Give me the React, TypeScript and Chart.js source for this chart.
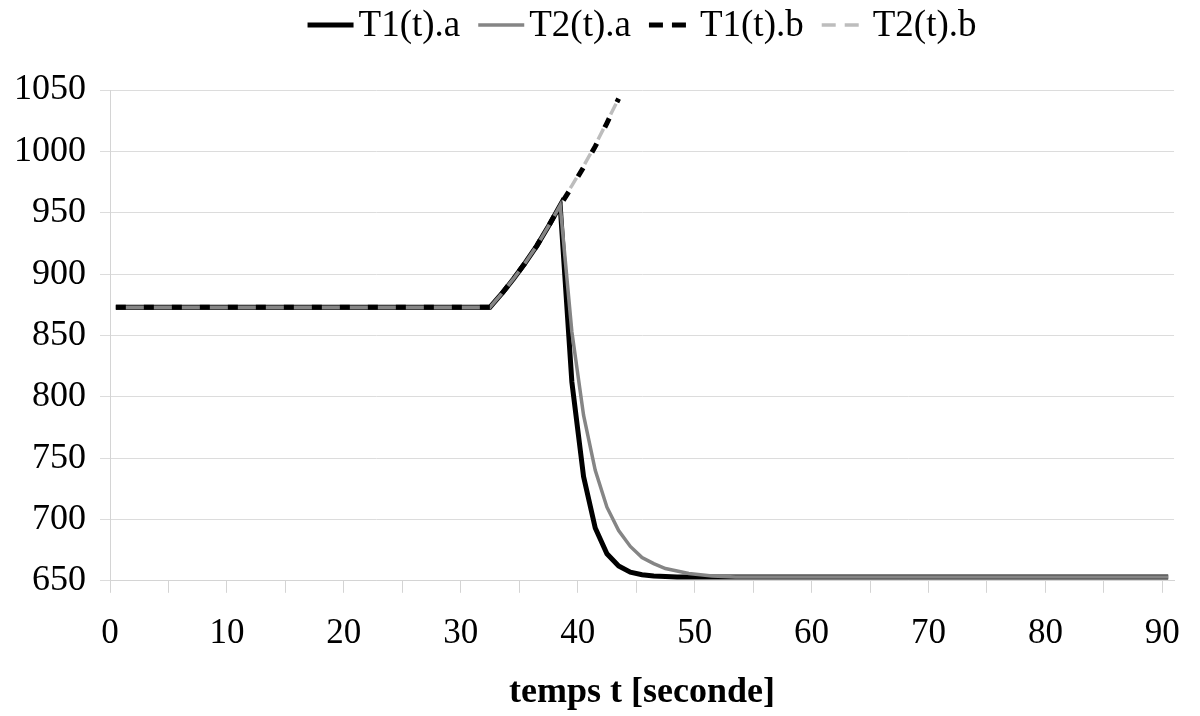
import React, { useEffect, useRef } from "react";
import { Chart, registerables } from "chart.js";

Chart.register(...registerables);

// Time points (seconds)
const timeA = [0.5, 32.5, 33.5, 34.5, 35.5, 36.5, 37.5, 38.5, 39.5, 40.5, 41.5, 42.5, 43.5, 44.5, 45.5, 46.5, 47.5, 48.5, 49.5, 50.5, 51.5, 52.5, 53.5, 90.5];
const timeB = [0.5, 32.5, 33.5, 34.5, 35.5, 36.5, 37.5, 38.5, 39.5, 40.5, 41.5, 42.5, 43.5];

// Series values
const T1a = [873, 873, 884, 896, 909, 923, 939, 956, 812, 735, 693, 672, 662, 657, 655, 654, 653.5, 653, 653, 653, 653, 653, 653, 653];
const T2a = [873, 873, 884, 896, 909, 923, 939, 956, 853, 785, 740, 710, 691, 678, 669, 664, 660, 658, 656, 655, 654, 653.5, 653, 653];
const T1b = [873, 873, 884, 896, 909, 923, 939, 956, 971, 987, 1004, 1023, 1043];
const T2b = [873, 873, 884, 897, 910, 924, 940, 957, 972, 988, 1005, 1024, 1043];

const seriesLabels = ["T1(t).a", "T2(t).a", "T1(t).b", "T2(t).b"];
const xTitle = "temps t [seconde]";

const FONT = "'Liberation Serif', 'Times New Roman', serif";

const toPoints = (xs: number[], ys: number[]) => xs.map((x, i) => ({ x, y: ys[i] }));

// Legend drawn on the canvas, Excel style (line sample + label), in dataset order
const legendPlugin = {
  id: "excelLegend",
  afterDraw(chart: any) {
    const ctx = chart.ctx as CanvasRenderingContext2D;
    const area = chart.chartArea;
    const markerW = 46;
    const gapText = 5;
    const gapItem = 18;
    const y = 25;
    ctx.save();
    ctx.font = `37px ${FONT}`;
    ctx.textBaseline = "middle";
    ctx.fillStyle = "#000";
    const items = chart.data.datasets.map((ds: any) => {
      const w = ctx.measureText(ds.label).width;
      return { ds, w };
    });
    const total =
      items.reduce((s: number, it: any) => s + markerW + gapText + it.w, 0) + gapItem * (items.length - 1);
    let x = (area.left + area.right) / 2 - total / 2;
    items.forEach((it: any) => {
      const ds = it.ds;
      ctx.beginPath();
      ctx.strokeStyle = ds.borderColor;
      ctx.lineWidth = ds.borderWidth;
      ctx.setLineDash(ds.borderDash ? [14, 9] : []);
      ctx.lineDashOffset = 0;
      ctx.moveTo(x, y);
      ctx.lineTo(x + markerW, y);
      ctx.stroke();
      ctx.setLineDash([]);
      x += markerW + gapText;
      ctx.fillText(ds.label, x, y + 1);
      x += it.w + gapItem;
    });
    ctx.restore();
  },
};

export default function App() {
  const ref = useRef<HTMLCanvasElement | null>(null);

  useEffect(() => {
    if (!ref.current) return;
    const chart = new Chart(ref.current, {
      type: "line",
      data: {
        datasets: [
          {
            label: seriesLabels[0],
            data: toPoints(timeA, T1a),
            borderColor: "#000000",
            backgroundColor: "#000000",
            borderWidth: 5,
            pointRadius: 0,
            tension: 0,
            order: 2,
          },
          {
            label: seriesLabels[1],
            data: toPoints(timeA, T2a),
            borderColor: "#858585",
            backgroundColor: "#858585",
            borderWidth: 3.5,
            pointRadius: 0,
            tension: 0,
            order: 1,
          },
          {
            label: seriesLabels[2],
            data: toPoints(timeB, T1b),
            borderColor: "#000000",
            backgroundColor: "#000000",
            borderWidth: 5,
            borderDash: [10, 18],
            pointRadius: 0,
            tension: 0,
            order: 0,
          },
          {
            label: seriesLabels[3],
            data: toPoints(timeB, T2b),
            borderColor: "#bdbdbd",
            backgroundColor: "#bdbdbd",
            borderWidth: 3.5,
            borderDash: [12, 16],
            borderDashOffset: 14,
            pointRadius: 0,
            tension: 0,
            order: 3,
          },
        ],
      },
      options: {
        animation: false,
        responsive: true,
        maintainAspectRatio: false,
        layout: { padding: { left: 0, right: 14, top: 90, bottom: 2 } },
        plugins: {
          tooltip: { enabled: false },
          legend: { display: false },
        },
        scales: {
          x: {
            type: "linear",
            min: 0,
            max: 91,
            grid: {
              drawOnChartArea: false,
              drawTicks: true,
              tickLength: 12,
              color: "#d4d4d4",
            },
            border: { color: "#d4d4d4", width: 1 },
            ticks: {
              stepSize: 5,
              includeBounds: false,
              autoSkip: false,
              maxRotation: 0,
              padding: 20,
              color: "#000",
              font: { family: FONT, size: 35 },
              callback: (v: any) => (Number(v) % 10 === 0 ? String(v) : ""),
            },
            title: {
              display: true,
              text: xTitle,
              color: "#000",
              font: { family: FONT, size: 36, weight: "bold" },
              padding: { top: -4, bottom: 0 },
            },
          },
          y: {
            type: "linear",
            min: 650,
            max: 1050,
            grid: {
              color: "#dcdcdc",
              tickLength: 10,
              drawTicks: true,
            },
            border: { color: "#d4d4d4", width: 1 },
            ticks: {
              stepSize: 50,
              padding: 14,
              color: "#000",
              font: { family: FONT, size: 36 },
              callback: (v: any) => String(v),
            },
          },
        },
      },
      plugins: [legendPlugin],
    });
    return () => chart.destroy();
  }, []);

  return (
    <div style={{ position: "absolute", left: 0, top: 0, width: 1200, height: 716, background: "#fff" }}>
      <canvas ref={ref} />
    </div>
  );
}
